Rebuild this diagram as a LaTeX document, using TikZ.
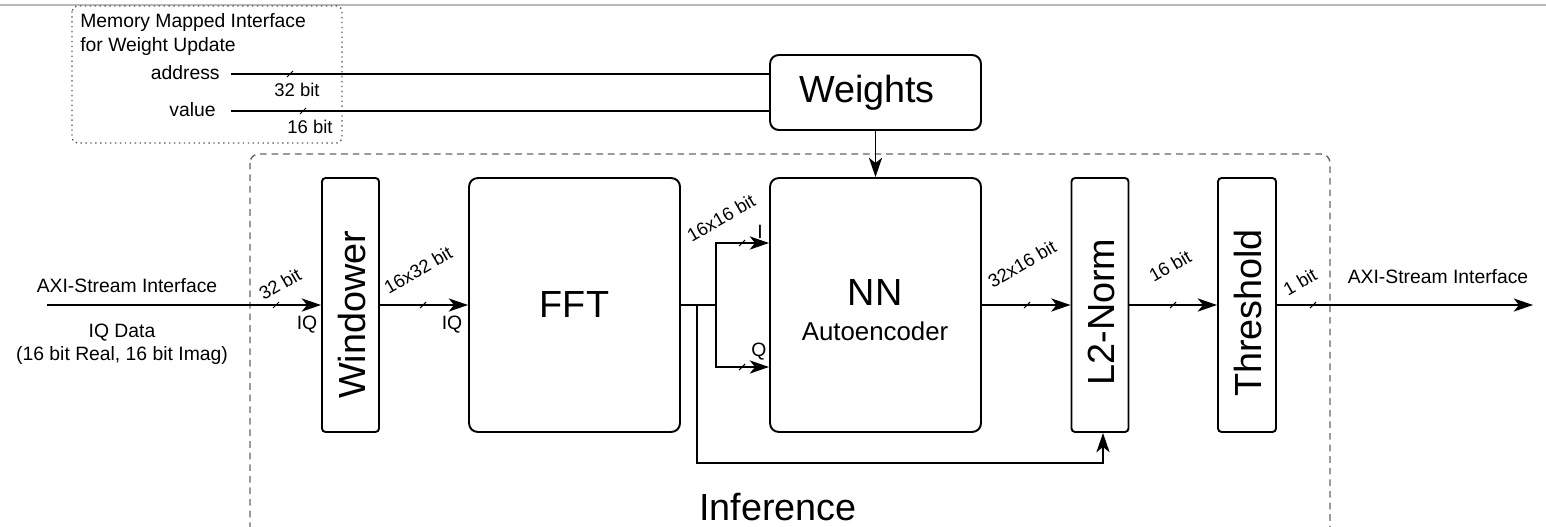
\documentclass[tikz,border=0pt]{standalone}
\usepackage{fontspec}
\setmainfont{Liberation Sans}
\usetikzlibrary{arrows.meta, calc}

\begin{document}
\begin{tikzpicture}[x=0.02cm, y=-0.02cm,
    block/.style={draw, line width=1.1pt, rounded corners=5pt, minimum width=4.22cm, minimum height=5.08cm},
    slim/.style={block, rounded corners=2pt, minimum width=1.14cm},
    big/.style={font=\fontsize{21.5}{24}\selectfont, inner sep=0pt},
    txt/.style={font=\fontsize{11}{13}\selectfont, inner sep=0pt},
    busw/.style={font=\fontsize{10.5}{12}\selectfont, inner sep=0pt},
    bits/.style={busw, rotate=30},
    wire/.style={line width=0.9pt},
    sig/.style={wire, -{Stealth[length=11pt, width=7.5pt, inset=3pt]}},
  ]
  \useasboundingbox (0,0) rectangle (1546,527);
  \clip (0,0) rectangle (1546,527);

  % frames
  \draw[gray!55, line width=1.3pt] (0,5) -- (1546,5);
  \draw[black!65, dotted, line width=0.8pt, rounded corners=3pt] (72,6) rectangle (342,143);
  \draw[black!60, line width=0.8pt, dash pattern=on 3.8pt off 2.8pt, rounded corners=5pt] (250,154) rectangle (1330,600);

  % blocks
  \node[block, minimum height=1.5cm] (weights) at (875.5,92.5) {};
  \node[slim] (win) at (350.5,305) {};
  \node[block] (fft) at (574.5,305) {};
  \node[block] (nn) at (875.5,305) {};
  \node[slim] (l2) at (1100,305) {};
  \node[slim, minimum width=1.16cm] (thr) at (1247,305) {};

  \node[big] (weightslbl) at (867,93) {Weights};
  \node[big] (fftlbl) at (fft) {FFT};
  \node[big] (nnlbl) at (875,293) {NN};
  \node[font=\fontsize{14.7}{17}\selectfont, inner sep=0pt] (aelbl) at (875,331) {Autoencoder};
  \node[big, rotate=90] (winlbl) at (352,315) {Windower};
  \node[big, rotate=90] (l2lbl) at (1101,312) {L2-Norm};
  \node[big, rotate=90] (thrlbl) at (1248,313) {Threshold};
  \node[big, anchor=base] (inflbl) at (778,520) {Inference};

  % interface texts
  \node[txt, anchor=base west] (mmlbl) at (80,28) {Memory Mapped Interface};
  \node[txt, anchor=base west] (wulbl) at (80,52) {for Weight Update};
  \node[txt, anchor=base east] (addrlbl) at (220,80) {address};
  \node[txt, anchor=base east] (vallbl) at (216,117) {value};
  \node[txt, anchor=base] (axiinlbl) at (127,292) {AXI-Stream Interface};
  \node[txt, anchor=base] (iqlbl) at (122,337) {IQ Data};
  \node[txt, anchor=base] (fmtlbl) at (122,360) {(16 bit Real, 16 bit Imag)};
  \node[txt, anchor=base] (axioutlbl) at (1438,283) {AXI-Stream Interface};
  \node[txt, anchor=base] (iqwin) at (307,329) {IQ};
  \node[txt, anchor=base] (iqfft) at (452,329) {IQ};
  \node[txt, anchor=base] (ilbl) at (760,238) {I};
  \node[txt, anchor=base] (qlbl) at (759,356) {Q};
  \node[busw, anchor=base] (addrbits) at (297,97) {32 bit};
  \node[busw, anchor=base] (valbits) at (310,133) {16 bit};

  % bus widths
  \foreach \name/\x/\y/\w in {inbits/280/284/32 bit, winbits/418/270/16x32 bit,
      fftbits/721/218/16x16 bit, nnbits/1022/264/32x16 bit,
      l2bits/1170/266/16 bit, thrbits/1300/282/1 bit}
    \node[bits] (\name) at (\x,\y) {\w};

  % connections
  \coordinate (axiin) at (47,305);
  \coordinate (axiout) at (1533,305);
  \coordinate (fork) at (697,305);
  \coordinate (split) at (716,305);
  \coordinate (addr) at (231,74);
  \coordinate (val) at (231,111);

  \draw[sig] (axiin) -- (win.west);
  \draw[sig] (win.east) -- (fft.west);
  \draw[wire] (fft.east) -- (split);
  \draw[sig] (split) |- ($(nn.west)+(0,-62)$);
  \draw[sig] (split) |- ($(nn.west)+(0,62)$);
  \draw[sig] (fork) |- ($(l2.south)+(3,30)$) -- ($(l2.south)+(3,0)$);
  \draw[sig] (nn.east) -- (l2.west);
  \draw[sig] (l2.east) -- (thr.west);
  \draw[sig] (thr.east) -- (axiout);
  \draw[sig] (weights.south) -- (nn.north);
  \draw[line width=0.7pt] (addr) -- (addr -| weights.west);
  \draw[line width=0.7pt] (val) -- (val -| weights.west);

  \foreach \x/\y in {276/305, 423/305, 742/243, 742/367, 1027/305, 1173/305,
      1313/305, 290/74, 303/111}
    \draw[line width=0.6pt] (\x,\y) ++(-3,3) -- ++(6,-6);
\end{tikzpicture}
\end{document}
